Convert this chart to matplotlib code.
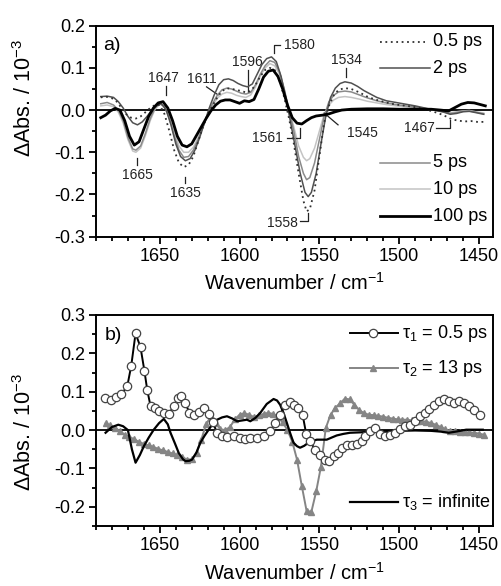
import matplotlib
matplotlib.use("Agg")
import matplotlib.pyplot as plt
from matplotlib.ticker import MultipleLocator, FormatStrFormatter

plt.rcParams['font.family'] = ['Liberation Sans', 'DejaVu Sans']
plt.rcParams['mathtext.fontset'] = 'custom'
plt.rcParams['mathtext.rm'] = 'Liberation Sans'
plt.rcParams['mathtext.it'] = 'Liberation Sans:italic'
plt.rcParams['axes.unicode_minus'] = False

# ---- panel a) transient spectra ----
wn_05 = [1687, 1684, 1680, 1677, 1674, 1671, 1668, 1665, 1662, 1659, 1656, 1653, 1650, 1647,
         1644, 1641, 1638, 1635, 1632, 1629, 1626, 1623, 1620, 1617, 1614, 1611, 1608, 1605,
         1602, 1599, 1596, 1593, 1590, 1587, 1584, 1581, 1578, 1575, 1572, 1569, 1566, 1563,
         1560, 1558, 1556, 1553, 1550, 1547, 1544, 1541, 1538, 1534, 1530, 1525, 1520, 1515,
         1510, 1505, 1500, 1495, 1490, 1485, 1480, 1475, 1470, 1467, 1463, 1459, 1455, 1451, 1447]
abs_05 = [0.03, 0.032, 0.028, 0.02, 0.005, -0.01, -0.018, -0.02, -0.015, -0.005, 0.005, 0.012,
          0.012, -0.01, -0.05, -0.095, -0.125, -0.135, -0.13, -0.11, -0.075, -0.04, -0.01, 0.01,
          0.03, 0.045, 0.052, 0.05, 0.048, 0.045, 0.042, 0.045, 0.06, 0.08, 0.095, 0.1, 0.095,
          0.07, 0.03, -0.02, -0.08, -0.15, -0.215, -0.24, -0.235, -0.19, -0.11, -0.03, 0.01,
          0.035, 0.048, 0.052, 0.05, 0.042, 0.032, 0.025, 0.02, 0.015, 0.012, 0.01, 0.007, 0.003,
          -0.002, -0.008, -0.016, -0.022, -0.025, -0.027, -0.026, -0.028, -0.028]

wn_2 = [1687, 1683, 1679, 1676, 1673, 1670, 1667, 1664, 1661, 1658, 1655, 1652, 1649, 1646,
        1643, 1640, 1637, 1634, 1631, 1628, 1625, 1622, 1619, 1616, 1613, 1610, 1607, 1604,
        1601, 1598, 1595, 1592, 1589, 1586, 1583, 1580, 1577, 1574, 1571, 1568, 1565, 1562,
        1559, 1557, 1555, 1552, 1549, 1546, 1543, 1540, 1537, 1534, 1530, 1526, 1522, 1518,
        1514, 1508, 1502, 1496, 1490, 1484, 1478, 1472, 1468, 1464, 1460, 1456, 1452, 1447]
abs_2 = [0.032, 0.033, 0.03, 0.02, 0.005, -0.015, -0.03, -0.035, -0.028, -0.015, 0.0, 0.012,
         0.015, 0.0, -0.035, -0.08, -0.11, -0.12, -0.115, -0.095, -0.065, -0.03, 0.005, 0.035,
         0.06, 0.072, 0.074, 0.07, 0.063, 0.058, 0.055, 0.062, 0.085, 0.108, 0.122, 0.126, 0.115,
         0.08, 0.03, -0.03, -0.09, -0.15, -0.195, -0.205, -0.195, -0.15, -0.08, -0.015, 0.03,
         0.052, 0.063, 0.067, 0.064, 0.056, 0.046, 0.038, 0.03, 0.022, 0.018, 0.014, 0.01, 0.005,
         0.0, -0.005, -0.01, -0.008, -0.004, -0.003, -0.006, -0.01]

wn_5 = [1687, 1683, 1679, 1676, 1673, 1670, 1667, 1665, 1662, 1659, 1656, 1653, 1650, 1647,
        1644, 1641, 1638, 1635, 1632, 1629, 1626, 1623, 1620, 1617, 1614, 1611, 1608, 1605,
        1602, 1599, 1596, 1593, 1590, 1587, 1584, 1581, 1578, 1575, 1572, 1569, 1566, 1563,
        1560, 1558, 1556, 1553, 1550, 1547, 1544, 1541, 1538, 1534, 1530, 1525, 1520, 1514,
        1508, 1502, 1496, 1490, 1484, 1478, 1472, 1468, 1464, 1460, 1456, 1452, 1447]
abs_5 = [0.015, 0.018, 0.012, 0.0, -0.025, -0.065, -0.092, -0.095, -0.085, -0.055, -0.02, 0.005,
         0.015, 0.008, -0.02, -0.06, -0.095, -0.112, -0.11, -0.095, -0.07, -0.04, -0.01, 0.015,
         0.035, 0.048, 0.052, 0.05, 0.045, 0.04, 0.038, 0.042, 0.06, 0.085, 0.105, 0.117, 0.113,
         0.09, 0.05, 0.0, -0.05, -0.11, -0.15, -0.165, -0.16, -0.125, -0.07, -0.015, 0.02, 0.035,
         0.043, 0.045, 0.043, 0.036, 0.029, 0.022, 0.017, 0.013, 0.01, 0.007, 0.004, 0.0, -0.004,
         -0.008, -0.006, -0.003, -0.002, -0.005, -0.009]

wn_10 = wn_5
abs_10 = [0.01, 0.012, 0.008, -0.005, -0.03, -0.07, -0.097, -0.1, -0.09, -0.06, -0.025, 0.002,
          0.014, 0.01, -0.015, -0.05, -0.085, -0.1, -0.1, -0.088, -0.065, -0.04, -0.012, 0.01,
          0.028, 0.038, 0.042, 0.04, 0.035, 0.032, 0.03, 0.036, 0.055, 0.08, 0.1, 0.11, 0.105,
          0.085, 0.045, 0.0, -0.04, -0.085, -0.112, -0.12, -0.115, -0.09, -0.05, -0.01, 0.012,
          0.024, 0.03, 0.032, 0.03, 0.026, 0.021, 0.017, 0.013, 0.01, 0.008, 0.006, 0.003, 0.0,
          -0.003, -0.006, -0.004, -0.002, -0.001, -0.004, -0.007]

wn_100 = [1687, 1684, 1681, 1678, 1675, 1672, 1669, 1666, 1663, 1660, 1657, 1654, 1651, 1648,
          1645, 1642, 1639, 1636, 1633, 1630, 1627, 1624, 1621, 1618, 1615, 1612, 1609, 1606,
          1603, 1600, 1597, 1594, 1591, 1588, 1585, 1582, 1579, 1576, 1573, 1570, 1567, 1564,
          1561, 1558, 1555, 1552, 1548, 1544, 1540, 1536, 1530, 1520, 1510, 1500, 1490, 1480,
          1474, 1469, 1465, 1461, 1457, 1453, 1449, 1446]
abs_100 = [-0.018, -0.012, -0.002, 0.004, 0.0, -0.025, -0.062, -0.083, -0.075, -0.045, -0.015,
           0.005, 0.017, 0.02, 0.005, -0.025, -0.062, -0.083, -0.087, -0.08, -0.06, -0.04, -0.02,
           -0.002, 0.012, 0.021, 0.024, 0.024, 0.02, 0.016, 0.022, 0.02, 0.025, 0.05, 0.078,
           0.092, 0.095, 0.08, 0.05, 0.012, -0.018, -0.031, -0.033, -0.025, -0.018, -0.014,
           -0.012, -0.009, -0.004, 0.0, 0.002, 0.003, 0.003, 0.002, 0.002, 0.002, 0.0, -0.002,
           0.006, 0.014, 0.018, 0.017, 0.013, 0.01]

# ---- panel b) decay associated spectra ----
wn_t1 = [1684.5, 1680.8, 1677.7, 1674.1, 1670.4, 1667.9, 1665.2, 1662.1, 1659.6, 1657.9, 1655.8,
         1653.3, 1650.6, 1647.5, 1644.4, 1641.1, 1638.6, 1636.5, 1634.0, 1631.5, 1628.8, 1625.6,
         1622.6, 1619.3, 1616.7, 1614.2, 1611.0, 1607.9, 1603.8, 1599.6, 1596.5, 1593.3, 1589.1,
         1585.0, 1580.8, 1577.7, 1574.6, 1571.4, 1568.7, 1566.2, 1563.1, 1560.4, 1558.3, 1555.8,
         1552.7, 1549.6, 1546.4, 1543.7, 1541.1, 1538.6, 1536.0, 1532.9, 1529.8, 1526.6, 1523.5,
         1521.4, 1518.3, 1515.2, 1512.0, 1508.9, 1505.8, 1502.6, 1499.5, 1496.4, 1493.3, 1490.2,
         1487.0, 1483.9, 1481.4, 1478.3, 1475.2, 1472.1, 1468.9, 1465.8, 1462.7, 1459.6, 1456.4,
         1453.3, 1449.2]
dA_t1 = [0.084, 0.079, 0.086, 0.094, 0.114, 0.168, 0.252, 0.216, 0.153, 0.105, 0.062, 0.058,
         0.051, 0.045, 0.043, 0.062, 0.084, 0.09, 0.071, 0.045, 0.04, 0.046, 0.058, 0.043, 0.02,
         -0.007, -0.016, -0.018, -0.016, -0.02, -0.024, -0.02, -0.02, -0.016, -0.003, 0.019,
         0.04, 0.066, 0.072, 0.066, 0.058, 0.038, -0.009, -0.029, -0.051, -0.064, -0.077, -0.081,
         -0.068, -0.059, -0.046, -0.04, -0.038, -0.035, -0.029, -0.016, -0.003, 0.006, -0.01,
         -0.016, -0.014, -0.007, 0.002, 0.01, 0.014, 0.023, 0.036, 0.045, 0.055, 0.066, 0.075,
         0.081, 0.075, 0.071, 0.077, 0.071, 0.062, 0.053, 0.04]

wn_t2 = [1684, 1681, 1678, 1675, 1672, 1669, 1666, 1663, 1660, 1657, 1654, 1651, 1648, 1645,
         1642, 1639, 1636, 1633, 1630, 1627, 1624, 1621, 1618, 1615, 1612, 1609, 1606, 1603,
         1600, 1597, 1594, 1591, 1588, 1585, 1582, 1579, 1576, 1573, 1570, 1567, 1564, 1561,
         1558, 1555, 1552, 1549, 1546, 1543, 1540, 1537, 1534, 1531, 1528, 1525, 1522, 1519,
         1516, 1513, 1510, 1507, 1504, 1501, 1498, 1495, 1492, 1489, 1486, 1483, 1480, 1477,
         1474, 1471, 1468, 1465, 1462, 1459, 1456, 1453, 1450, 1447]
dA_t2 = [0.018, 0.012, 0.006, -0.003, -0.012, -0.018, -0.024, -0.031, -0.036, -0.04, -0.044,
         -0.049, -0.053, -0.057, -0.061, -0.065, -0.07, -0.077, -0.076, -0.06, -0.025, 0.015,
         0.036, 0.019, 0.002, 0.0, 0.008, 0.028, 0.04, 0.044, 0.04, 0.034, 0.038, 0.042, 0.045,
         0.042, 0.035, 0.02, 0.0, -0.03, -0.077, -0.146, -0.211, -0.213, -0.16, -0.095, 0.005,
         0.04, 0.058, 0.07, 0.082, 0.08, 0.066, 0.052, 0.044, 0.04, 0.039, 0.037, 0.035, 0.032,
         0.03, 0.028, 0.027, 0.027, 0.025, 0.023, 0.023, 0.022, 0.018, 0.014, 0.008, 0.002,
         -0.002, -0.003, -0.004, -0.006, -0.006, -0.007, -0.009, -0.012]

wn_t3 = [1684, 1680, 1676, 1673, 1670, 1667.5, 1665.2, 1662.5, 1660, 1657, 1653.8, 1650.5,
         1647.5, 1645, 1643.3, 1640.5, 1638.1, 1635.5, 1633.9, 1631.5, 1629.8, 1627, 1624.6,
         1622, 1619.4, 1617, 1614.1, 1611, 1607.9, 1604.5, 1601.6, 1598.5, 1595.4, 1593.3, 1590,
         1587, 1583, 1578.7, 1576.5, 1574.6, 1572.5, 1570.4, 1568.3, 1566.2, 1564, 1562.1,
         1559.5, 1556.9, 1554, 1551.6, 1548.5, 1545.4, 1542, 1539.1, 1535, 1530.8, 1525, 1520.4,
         1510, 1500, 1490, 1480, 1474, 1468.9, 1463, 1458, 1453, 1447.6]
dA_t3 = [-0.007, 0.008, 0.014, 0.01, 0.0, -0.05, -0.085, -0.065, -0.042, -0.02, 0.001, 0.018,
         0.029, 0.015, -0.007, -0.035, -0.06, -0.076, -0.081, -0.08, -0.077, -0.058, -0.033,
         -0.015, 0.001, 0.015, 0.027, 0.033, 0.036, 0.03, 0.023, 0.025, 0.027, 0.023, 0.032,
         0.045, 0.068, 0.081, 0.077, 0.066, 0.045, 0.019, -0.008, -0.033, -0.042, -0.046,
         -0.041, -0.033, -0.028, -0.025, -0.025, -0.025, -0.019, -0.014, -0.01, -0.007, -0.006,
         -0.005, -0.003, -0.002, -0.001, -0.002, -0.004, -0.007, -0.003, 0.001, 0.001, 0.001]

# peak labels for panel a): text, text pos, ha, leader line points
peak_labels = [
    ("1647", (1647.5, 0.075), 'center', [(1646, 0.057), (1646, 0.036)]),
    ("1611", (1623.5, 0.073), 'center', [(1620.7, 0.055), (1613.5, 0.036)]),
    ("1665", (1664.0, -0.154), 'center', [(1664, -0.114), (1664, -0.13)]),
    ("1635", (1634.0, -0.197), 'center', [(1634, -0.158), (1634, -0.173)]),
    ("1596", (1595.4, 0.115), 'center', [(1595, 0.095), (1595, 0.044)]),
    ("1580", (1572.3, 0.155), 'left', [(1578.7, 0.135), (1578.7, 0.154), (1574.6, 0.154)]),
    ("1534", (1532.9, 0.119), 'center', [(1533, 0.099), (1533, 0.079)]),
    ("1561", (1572.7, -0.067), 'right', [(1570.4, -0.067), (1562.1, -0.067), (1562.1, -0.043)]),
    ("1558", (1563.3, -0.268), 'right', [(1562.1, -0.264), (1556.9, -0.264), (1556.9, -0.245)]),
    ("1545", (1532.8, -0.054), 'left', [(1547, -0.007), (1538.3, -0.035)]),
    ("1467", (1477.7, -0.043), 'right', [(1477, -0.043), (1468.3, -0.043), (1468.3, -0.023)]),
]

fig = plt.figure(figsize=(5.01, 5.86), dpi=100)
ax1 = fig.add_axes([0.1916, 0.5961, 0.7930, 0.3601])
ax2 = fig.add_axes([0.1916, 0.1024, 0.7930, 0.3601])


def style_axis(ax, ylo, yhi, ylab_y):
    ax.set_xlim(1690, 1441)
    ax.set_ylim(ylo, yhi)
    ax.xaxis.set_major_locator(MultipleLocator(50))
    ax.xaxis.set_minor_locator(MultipleLocator(10))
    ax.yaxis.set_major_locator(MultipleLocator(0.1))
    ax.yaxis.set_minor_locator(MultipleLocator(0.05))
    ax.yaxis.set_major_formatter(FormatStrFormatter('%.1f'))
    ax.xaxis.set_major_formatter(FormatStrFormatter('%d'))
    for s in ax.spines.values():
        s.set_linewidth(1.4)
    ax.tick_params(which='both', direction='out', top=False, right=False, width=1.3, labelsize=13)
    ax.tick_params(which='major', length=5, pad=3)
    ax.tick_params(which='minor', length=3)
    ax.axhline(0, color='black', lw=1.3, zorder=1)
    ax.set_xlabel('Wavenumber / cm$^{-1}$', fontsize=14.5)
    ax.set_ylabel('ΔAbs. / 10$^{-3}$', fontsize=15.5)
    ax.yaxis.set_label_coords(-0.15, ylab_y)


style_axis(ax1, -0.3, 0.2, 0.657)
ax1.xaxis.set_label_coords(0.5, -0.165)
style_axis(ax2, -0.25, 0.3, 0.445)
ax2.xaxis.set_label_coords(0.5, -0.172)

# panel a curves
ax1.plot(wn_10, abs_10, color='#c4c4c4', lw=1.1, zorder=2)
ax1.plot(wn_5, abs_5, color='#8a8a8a', lw=1.1, zorder=3)
ax1.plot(wn_2, abs_2, color='#505050', lw=1.1, zorder=4)
ax1.plot(wn_05, abs_05, color='#303030', lw=1.3, ls=(0, (1, 2)), zorder=5)
ax1.plot(wn_100, abs_100, color='black', lw=2.0, zorder=6)

for txt, (tx, ty), ha, pts in peak_labels:
    ax1.text(tx, ty, txt, ha=ha, va='center', fontsize=10, color='#222222')
    ax1.plot([p[0] for p in pts], [p[1] for p in pts], color='#222222', lw=0.9)

ax1.text(0.018, 0.905, 'a)', transform=ax1.transAxes, fontsize=14, va='center')

# manual legend, panel a
leg_a = [('0.5 ps', 0.924, '#303030', (0, (1, 2)), 1.3, 0.828),
         ('2 ps', 0.798, '#505050', '-', 1.1, 0.841),
         ('5 ps', 0.351, '#8a8a8a', '-', 1.1, 0.841),
         ('10 ps', 0.225, '#c4c4c4', '-', 1.1, 0.841),
         ('100 ps', 0.098, 'black', '-', 2.0, 0.841)]
for lab, yy, c, ls, lw, x1 in leg_a:
    ax1.plot([0.715, x1], [yy, yy], color=c, ls=ls, lw=lw, transform=ax1.transAxes)
    ax1.text(0.849, yy, lab, transform=ax1.transAxes, fontsize=13, va='center')

# panel b curves
ax2.plot(wn_t2, dA_t2, color='#858585', lw=1.4, marker='^', ms=4.5, mfc='#858585',
         mec='#858585', zorder=3)
ax2.plot(wn_t3, dA_t3, color='black', lw=1.6, zorder=4)
ax2.plot(wn_t1, dA_t1, color='black', lw=1.4, marker='o', ms=6, mfc='white',
         mec='#444444', mew=0.9, zorder=5)

ax2.text(0.023, 0.905, 'b)', transform=ax2.transAxes, fontsize=14, va='center')

# manual legend, panel b
ax2.plot([0.639, 0.761], [0.913, 0.913], color='black', lw=1.4, transform=ax2.transAxes)
ax2.plot([0.697], [0.913], 'o', ms=6, mfc='white', mec='#444444', mew=0.9,
         transform=ax2.transAxes)
ax2.text(0.769, 0.913, 'τ$_{1}$ = 0.5 ps', transform=ax2.transAxes, fontsize=13, va='center')
ax2.plot([0.639, 0.761], [0.747, 0.747], color='#858585', lw=1.4, transform=ax2.transAxes)
ax2.plot([0.697], [0.747], '^', ms=4.5, color='#858585', transform=ax2.transAxes)
ax2.text(0.769, 0.747, 'τ$_{2}$ = 13 ps', transform=ax2.transAxes, fontsize=13, va='center')
ax2.plot([0.639, 0.761], [0.112, 0.112], color='black', lw=1.6, transform=ax2.transAxes)
ax2.text(0.769, 0.112, 'τ$_{3}$ = infinite', transform=ax2.transAxes, fontsize=13, va='center')

fig.savefig('out.png', dpi=100)
